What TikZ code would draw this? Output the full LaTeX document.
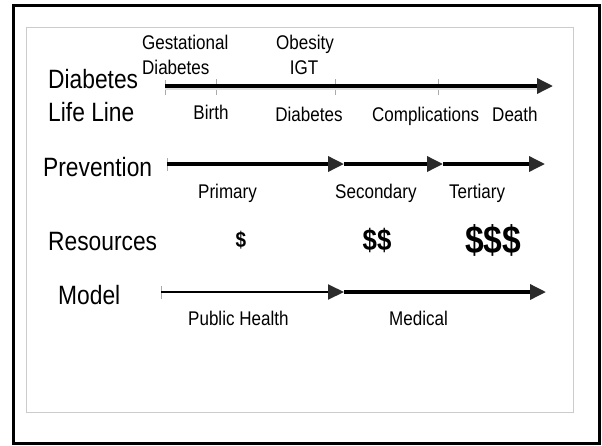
\documentclass[tikz,border=0pt]{standalone}
\usepackage{fontspec}
\setmainfont{Liberation Sans}
\newfontfamily\narrowfont[FakeStretch=0.86]{Liberation Sans}
\usetikzlibrary{arrows.meta}
\definecolor{headgray}{HTML}{2B2B2B}
\definecolor{framegray}{HTML}{CCCCCC}
\definecolor{tickgray}{HTML}{AAAAAA}
\tikzset{
  big/.style={inner sep=0pt, font=\narrowfont\fontsize{26.5}{30}\selectfont},
  small/.style={inner sep=0pt, font=\narrowfont\fontsize{19.8}{22}\selectfont},
  money/.style={inner sep=0pt, font=\narrowfont\bfseries\fontsize{#1}{#1}\selectfont},
  headtip/.style={-{Triangle[length=16pt,width=15pt,fill=headgray,color=headgray]}},
  thickline/.style={line width=3.5pt, black},
  thinline/.style={line width=2pt, black},
  tickmark/.style={line width=1pt, tickgray},
}
\begin{document}
\begin{tikzpicture}[x=1pt,y=-1pt]
\useasboundingbox (0,0) rectangle (602,445);
% frames
\draw[line width=3pt, black] (13.5,5) rectangle (599.5,443);
\draw[line width=1pt, framegray] (26,27) rectangle (573,412);

% ---------- Diabetes Life Line ----------
\node[big, anchor=base west] (dl1) at (48,88) {Diabetes};
\node[big, anchor=base west] (dl2) at (48,121) {Life Line};
\node[small, anchor=base west] (gest1) at (142,49) {Gestational};
\node[small, anchor=base west] (gest2) at (142,74) {Diabetes};
\node[small, anchor=base west] (obes) at (276,49) {Obesity};
\node[small, anchor=base] (igt) at (304,74) {IGT};
\node[small, anchor=base] (birth) at (211,119) {Birth};
\node[small, anchor=base] (diab) at (309,121) {Diabetes};
\node[small, anchor=base west] (comp) at (372,121) {Complications};
\node[small, anchor=base west] (death) at (492,121) {Death};

\coordinate (l0) at (165,86);
\coordinate (l1) at (553,86);
\draw[tickmark] (165,80) -- (165,95);
\draw[tickmark] (216,79) -- (216,95);
\draw[tickmark] (335,79) -- (335,95);
\draw[tickmark] (438,79) -- (438,95);
\draw[line width=1.5pt, black!12] (165,89) -- (540,89);
\draw[thickline, headtip] (l0) -- (l1);

% ---------- Prevention ----------
\node[big, anchor=base west] (prev) at (43,176) {Prevention};
\node[small, anchor=base west] (prim) at (198,198) {Primary};
\node[small, anchor=base west] (sec) at (335,198) {Secondary};
\node[small, anchor=base west] (ter) at (449,198) {Tertiary};
\coordinate (p0) at (167,164);
\coordinate (p1) at (344,164);
\coordinate (p2) at (443,164);
\coordinate (p3) at (545,164);
\draw[tickmark] (167,158) -- (167,171);
\draw[thickline, headtip] (p0) -- (p1);
\draw[thickline, headtip] (p1) -- (p2);
\draw[thickline, headtip] (p2) -- (p3);

% ---------- Resources ----------
\node[big, anchor=base west] (res) at (48,250) {Resources};
\node[money=22] (m1) at (241,240) {\$};
\node[money=30] (m2) at (377,240) {\$\$};
\node[money=39] (m3) at (493,240) {\$\$\$};

% ---------- Model ----------
\node[big, anchor=base west] (model) at (58,304) {Model};
\node[small, anchor=base west] (ph) at (188,325) {Public Health};
\node[small, anchor=base west] (med) at (389,325) {Medical};
\coordinate (q0) at (161,292);
\coordinate (q1) at (344,292);
\coordinate (q2) at (546,292);
\draw[tickmark] (161,286) -- (161,299);
\draw[thinline, headtip] (q0) -- (q1);
\draw[thickline, headtip] (q1) -- (q2);
\end{tikzpicture}
\end{document}
